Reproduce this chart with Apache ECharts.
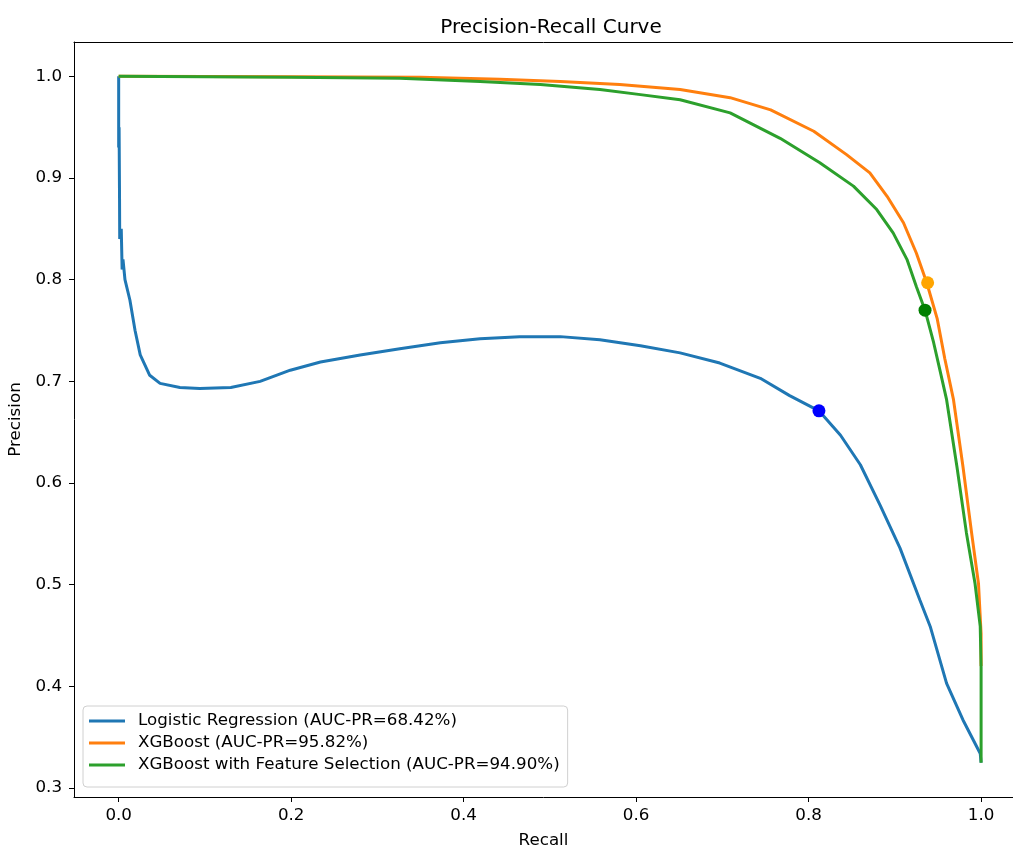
<!DOCTYPE html>
<html><head><meta charset="utf-8">
<script src="https://cdn.jsdelivr.net/npm/echarts@6/dist/echarts.min.js"></script>
<style>html,body{margin:0;padding:0;background:#fff}#c{width:1013px;height:849px}</style>
</head><body><div id="c"></div>
<script>
const xTicks = [0.0, 0.2, 0.4, 0.6, 0.8, 1.0];
const yTicks = [0.3, 0.4, 0.5, 0.6, 0.7, 0.8, 0.9, 1.0];

const lrRecall = [0, 0, 0.0005, 0.001, 0.0012, 0.003, 0.004, 0.005, 0.0073, 0.013, 0.019, 0.025, 0.036, 0.048, 0.071, 0.094, 0.13, 0.164, 0.199, 0.234, 0.28, 0.326, 0.373, 0.419, 0.465, 0.512, 0.558, 0.605, 0.651, 0.697, 0.744, 0.778, 0.812, 0.837, 0.860, 0.883, 0.906, 0.929, 0.941, 0.960, 0.979, 0.999, 1.0];
const lrPrecision = [1.0, 0.93, 0.95, 0.88, 0.84, 0.85, 0.81, 0.82, 0.80, 0.78, 0.75, 0.726, 0.706, 0.698, 0.694, 0.693, 0.694, 0.700, 0.711, 0.719, 0.726, 0.732, 0.738, 0.742, 0.744, 0.744, 0.741, 0.735, 0.728, 0.718, 0.703, 0.686, 0.671, 0.647, 0.618, 0.578, 0.536, 0.485, 0.459, 0.403, 0.367, 0.334, 0.325];

const xgbRecall = [0, 0.2, 0.35, 0.442, 0.512, 0.581, 0.651, 0.709, 0.756, 0.806, 0.844, 0.871, 0.891, 0.910, 0.925, 0.937, 0.949, 0.958, 0.968, 0.979, 0.989, 0.997, 1.0, 1.0];
const xgbPrecision = [1.0, 0.9995, 0.999, 0.997, 0.995, 0.992, 0.987, 0.979, 0.967, 0.946, 0.923, 0.905, 0.882, 0.856, 0.826, 0.797, 0.762, 0.722, 0.682, 0.616, 0.551, 0.501, 0.452, 0.42];

const fsRecall = [0, 0.2, 0.326, 0.419, 0.489, 0.558, 0.605, 0.651, 0.709, 0.767, 0.813, 0.852, 0.879, 0.898, 0.914, 0.925, 0.935, 0.945, 0.952, 0.960, 0.972, 0.983, 0.993, 0.999, 1.0, 1.0];
const fsPrecision = [1.0, 0.999, 0.998, 0.995, 0.992, 0.987, 0.982, 0.977, 0.964, 0.939, 0.915, 0.892, 0.869, 0.846, 0.820, 0.793, 0.770, 0.738, 0.712, 0.682, 0.616, 0.551, 0.501, 0.459, 0.419, 0.325];

const seriesNames = ['Logistic Regression (AUC-PR=68.42%)', 'XGBoost (AUC-PR=95.82%)', 'XGBoost with Feature Selection (AUC-PR=94.90%)'];
const lineColors = ['#1f77b4', '#ff7f0e', '#2ca02c'];
const thresholdPoints = [[0.812, 0.671], [0.938, 0.797], [0.935, 0.770]];
const thresholdColors = ['#0000ff', '#ffa500', '#008000'];

const zip = (a, b) => a.map((v, i) => [v, b[i]]);
const font = 'DejaVu Sans';
const fs = 16.7;

const chart = echarts.init(document.getElementById('c'), null, {renderer: 'canvas'});
const lines = [zip(lrRecall, lrPrecision), zip(xgbRecall, xgbPrecision), zip(fsRecall, fsPrecision)];
const series = lines.map((d, i) => ({
  name: seriesNames[i], type: 'line', data: d, symbol: 'none', smooth: false,
  lineStyle: {color: lineColors[i], width: 3}, itemStyle: {color: lineColors[i]},
  animation: false, z: 2 + i
}));
thresholdPoints.forEach((p, i) => series.push({
  type: 'scatter', data: [p], symbol: 'circle', symbolSize: 13,
  itemStyle: {color: thresholdColors[i], opacity: 1}, z: 10, animation: false
}));

const xMin = -0.0518, xMax = 1.037;
chart.setOption({
  animation: false,
  backgroundColor: '#fff',
  title: {text: 'Precision-Recall Curve', left: 546, top: 13, textAlign: 'center',
    textStyle: {fontFamily: font, fontSize: 20, fontWeight: 'normal', color: '#000'}},
  grid: {left: 74, top: 42, right: 0, bottom: 52, show: false, containLabel: false, outerBoundsMode: 'none'},
  legend: {
    data: seriesNames, orient: 'vertical', left: 83, top: 706,
    icon: 'rect', itemWidth: 36, itemHeight: 3, itemGap: 2,
    padding: [5, 8, 12, 6],
    backgroundColor: '#fff', borderColor: '#d0d0d0', borderWidth: 1, borderRadius: 4,
    textStyle: {fontFamily: font, fontSize: fs, lineHeight: 20, color: '#000', padding: [0, 0, 0, 8]}
  },
  xAxis: [{
    type: 'value', min: xMin, max: xMax,
    name: 'Recall', nameLocation: 'middle', nameGap: 35,
    nameTextStyle: {fontFamily: font, fontSize: fs, color: '#000'},
    axisLine: {show: true, onZero: false, lineStyle: {color: '#000', width: 1}},
    axisTick: {show: true, length: 5, inside: false, customValues: xTicks, lineStyle: {color: '#000'}},
    axisLabel: {customValues: xTicks, fontFamily: font, fontSize: fs, color: '#000', margin: 10,
      formatter: v => v.toFixed(1)},
    splitLine: {show: false}
  }, {
    type: 'value', position: 'top', min: xMin, max: xMax,
    axisLine: {show: true, onZero: false, lineStyle: {color: '#000', width: 1}},
    axisTick: {show: false}, axisLabel: {show: false}, splitLine: {show: false}
  }],
  yAxis: {
    type: 'value', min: 0.29125, max: 1.03375,
    name: 'Precision', nameLocation: 'middle', nameGap: 47,
    nameTextStyle: {fontFamily: font, fontSize: fs, color: '#000'},
    axisLine: {show: true, onZero: false, lineStyle: {color: '#000', width: 1}},
    axisTick: {show: true, length: 5, inside: false, customValues: yTicks, lineStyle: {color: '#000'}},
    axisLabel: {customValues: yTicks, fontFamily: font, fontSize: fs, color: '#000', margin: 12,
      formatter: v => v.toFixed(1)},
    splitLine: {show: false}
  },
  series: series
});
</script></body></html>
